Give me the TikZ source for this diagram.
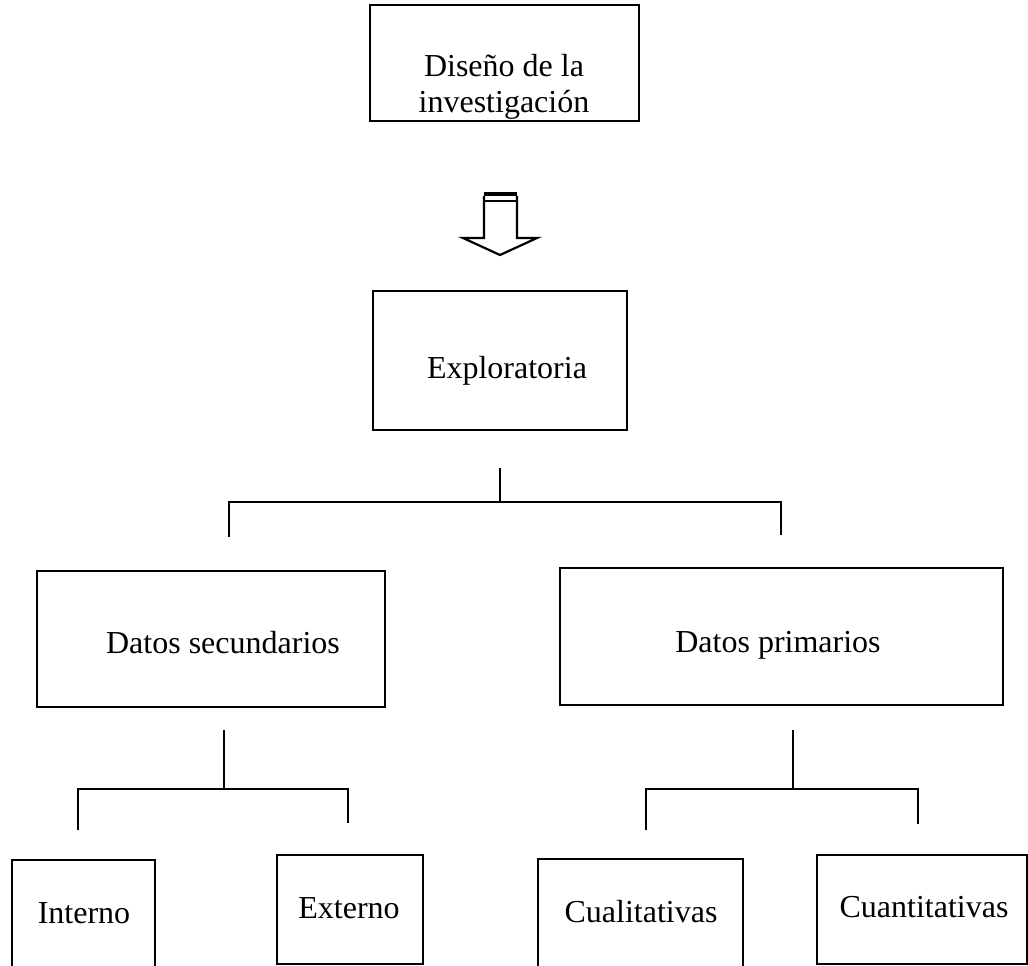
\documentclass[tikz,border=0pt]{standalone}
\usepackage{fontspec}
\setmainfont{Liberation Serif}
\begin{document}
\begin{tikzpicture}[x=1pt,y=-1pt,
  box/.style={draw, line width=2.4pt, inner sep=0pt, outer sep=0pt, anchor=north west},
  lbl/.style={font=\fontsize{32}{36}\selectfont, inner sep=0pt, align=center},
  link/.style={line width=2.4pt},
  blockarrow/.style={line width=2.2pt, line join=miter}]
\useasboundingbox (0,0) rectangle (1028,966);

% boxes
\node[box, minimum width=269pt, minimum height=116pt] (diseno) at (370,5) {};
\node[box, minimum width=254pt, minimum height=139pt] (explo) at (373,291) {};
\node[box, minimum width=348pt, minimum height=136pt] (dsec) at (37,571) {};
\node[box, minimum width=443pt, minimum height=137pt] (dprim) at (560,568) {};
\node[box, minimum width=143pt, minimum height=115pt] (interno) at (12,860) {};
\node[box, minimum width=146pt, minimum height=109pt] (externo) at (277,855) {};
\node[box, minimum width=205pt, minimum height=116pt] (cuali) at (538,859) {};
\node[box, minimum width=210pt, minimum height=109pt] (cuanti) at (817,855) {};

% labels
\node[lbl, anchor=center] (tdiseno) at (504,86.5) {Diseño de la\\investigación};
\node[lbl, anchor=base] (texplo) at (507,378) {Exploratoria};
\node[lbl, anchor=base] (tdsec) at (223,653) {Datos secundarios};
\node[lbl, anchor=base] (tdprim) at (778,652) {Datos primarios};
\node[lbl, anchor=base] (tinterno) at (84,923) {Interno};
\node[lbl, anchor=base] (texterno) at (349,918) {Externo};
\node[lbl, anchor=base] (tcuali) at (641,922) {Cualitativas};
\node[lbl, anchor=base] (tcuanti) at (924,917) {Cuantitativas};

% hollow block arrow with a double bar on top
\coordinate (aL) at (484,196);
\coordinate (aR) at (517,196);
\draw[blockarrow] (aL) -- (484,238) -- (463,238) -- (500,255) -- (537,238) -- (517,238) -- (aR);
\draw[line width=4.5pt] (484,194) -- (517,194);
\draw[line width=1.4pt] (484,201) -- (517,201);

% bracket under Exploratoria
\coordinate (b1) at (500,468);
\coordinate (b1j) at (500,502);
\coordinate (b1l) at (229,502);
\coordinate (b1r) at (781,502);
\coordinate (b1ld) at (229,537);
\coordinate (b1rd) at (781,535);
\draw[link] (b1) -- (b1j);
\draw[link] (b1ld) -- (b1l) -- (b1r) -- (b1rd);

% bracket under Datos secundarios
\coordinate (b2) at (224,730);
\coordinate (b2j) at (224,789);
\coordinate (b2l) at (78,789);
\coordinate (b2r) at (348,789);
\coordinate (b2ld) at (78,830);
\coordinate (b2rd) at (348,823);
\draw[link] (b2) -- (b2j);
\draw[link] (b2ld) -- (b2l) -- (b2r) -- (b2rd);

% bracket under Datos primarios
\coordinate (b3) at (793,730);
\coordinate (b3j) at (793,789);
\coordinate (b3l) at (646,789);
\coordinate (b3r) at (918,789);
\coordinate (b3ld) at (646,830);
\coordinate (b3rd) at (918,824);
\draw[link] (b3) -- (b3j);
\draw[link] (b3ld) -- (b3l) -- (b3r) -- (b3rd);
\end{tikzpicture}
\end{document}
